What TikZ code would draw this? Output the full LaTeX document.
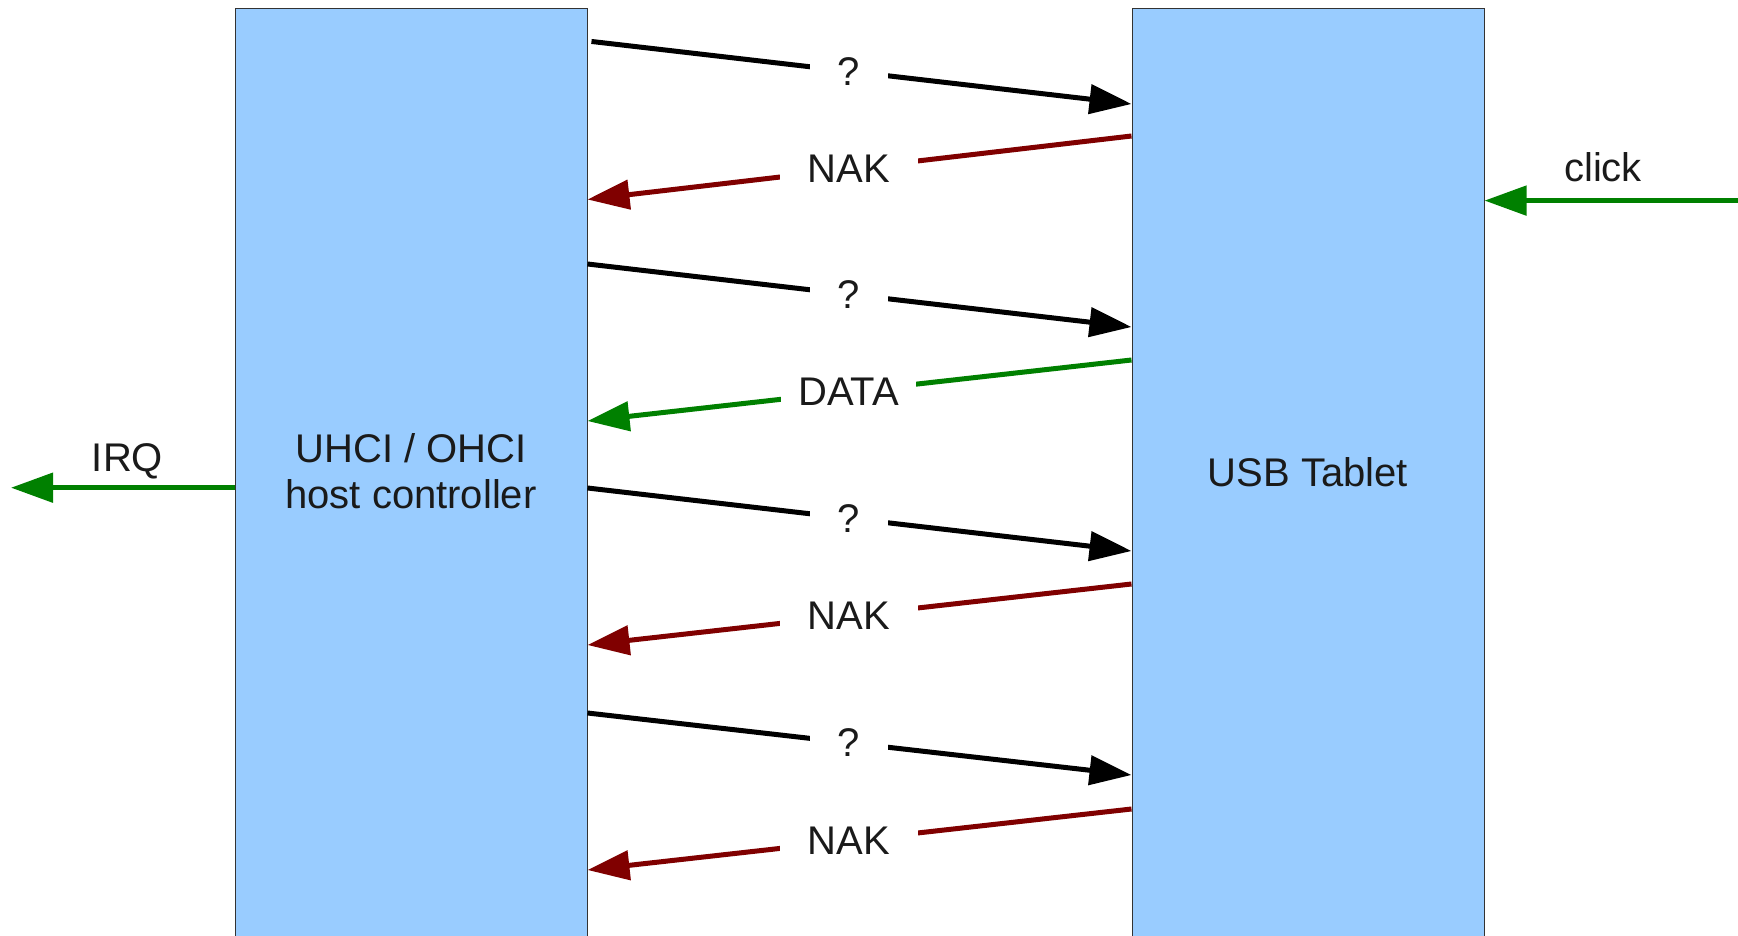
\documentclass[tikz,border=0pt]{standalone}
\usepackage{fontspec}
\setmainfont{Liberation Sans}
\usetikzlibrary{arrows.meta}
\definecolor{boxblue}{HTML}{99CCFF}
\definecolor{boxedge}{HTML}{333333}
\definecolor{nakred}{HTML}{800000}
\definecolor{okgreen}{HTML}{008000}
\definecolor{txt}{HTML}{1A1A1A}
\begin{document}
\begin{tikzpicture}[x=1pt,y=-1pt,
  box/.style={draw=boxedge,line width=1pt,fill=boxblue,minimum width=352pt,minimum height=931pt,inner sep=0pt},
  msg/.style={line width=5pt,-{Triangle[length=42pt,width=29pt]}},
  lbl/.style={fill=white,inner xsep=28pt,inner ysep=4pt,text=txt,font=\fontsize{40}{46.5}\selectfont},
  plain/.style={text=txt,align=center,font=\fontsize{40}{46.5}\selectfont}]
\useasboundingbox (0,0) rectangle (1738,936);
\fill[white] (0,0) rectangle (1738,936);
\node[box] (L) at (411,474.5) {};
\node[box] (R) at (1308,474.5) {};
\node[plain] (Ltext) at (411,471) {UHCI / OHCI\\host controller};
\node[plain] (Rtext) at (1308,472.5) {USB Tablet};
% row coordinates
\coordinate (a1) at (0,41);  \coordinate (b1) at (0,104);
\coordinate (c1) at (0,136); \coordinate (d1) at (0,199.5);
\coordinate (a2) at (0,264); \coordinate (b2) at (0,327);
\coordinate (c2) at (0,360); \coordinate (d2) at (0,421);
\coordinate (a3) at (0,488); \coordinate (b3) at (0,551);
\coordinate (c3) at (0,584); \coordinate (d3) at (0,645);
\coordinate (a4) at (0,713); \coordinate (b4) at (0,775);
\coordinate (c4) at (0,809); \coordinate (d4) at (0,870);
\coordinate (irqend) at (11,487.7);
\coordinate (clickstart) at (1738,200.6);
% messages
\draw[msg,black,shorten <=4pt] (L.east |- a1) -- node[lbl,pos=0.48]{?} (R.west |- b1);
\draw[msg,nakred] (R.west |- c1) -- node[lbl,pos=0.52]{NAK} (L.east |- d1);
\draw[msg,black] (L.east |- a2) -- node[lbl,pos=0.48]{?} (R.west |- b2);
\draw[msg,okgreen] (R.west |- c2) -- node[lbl,pos=0.52,inner xsep=17pt]{DATA} (L.east |- d2);
\draw[msg,black] (L.east |- a3) -- node[lbl,pos=0.48]{?} (R.west |- b3);
\draw[msg,nakred] (R.west |- c3) -- node[lbl,pos=0.52]{NAK} (L.east |- d3);
\draw[msg,black] (L.east |- a4) -- node[lbl,pos=0.48]{?} (R.west |- b4);
\draw[msg,nakred] (R.west |- c4) -- node[lbl,pos=0.52]{NAK} (L.east |- d4);
% IRQ and click
\draw[msg,okgreen] (L.west |- irqend) -- (irqend);
\node[plain] (irq) at (127.5,461) {IRQ};
\draw[msg,okgreen] (clickstart) -- (R.east |- clickstart);
\node[plain] (click) at (1603,167) {click};
\end{tikzpicture}
\end{document}
